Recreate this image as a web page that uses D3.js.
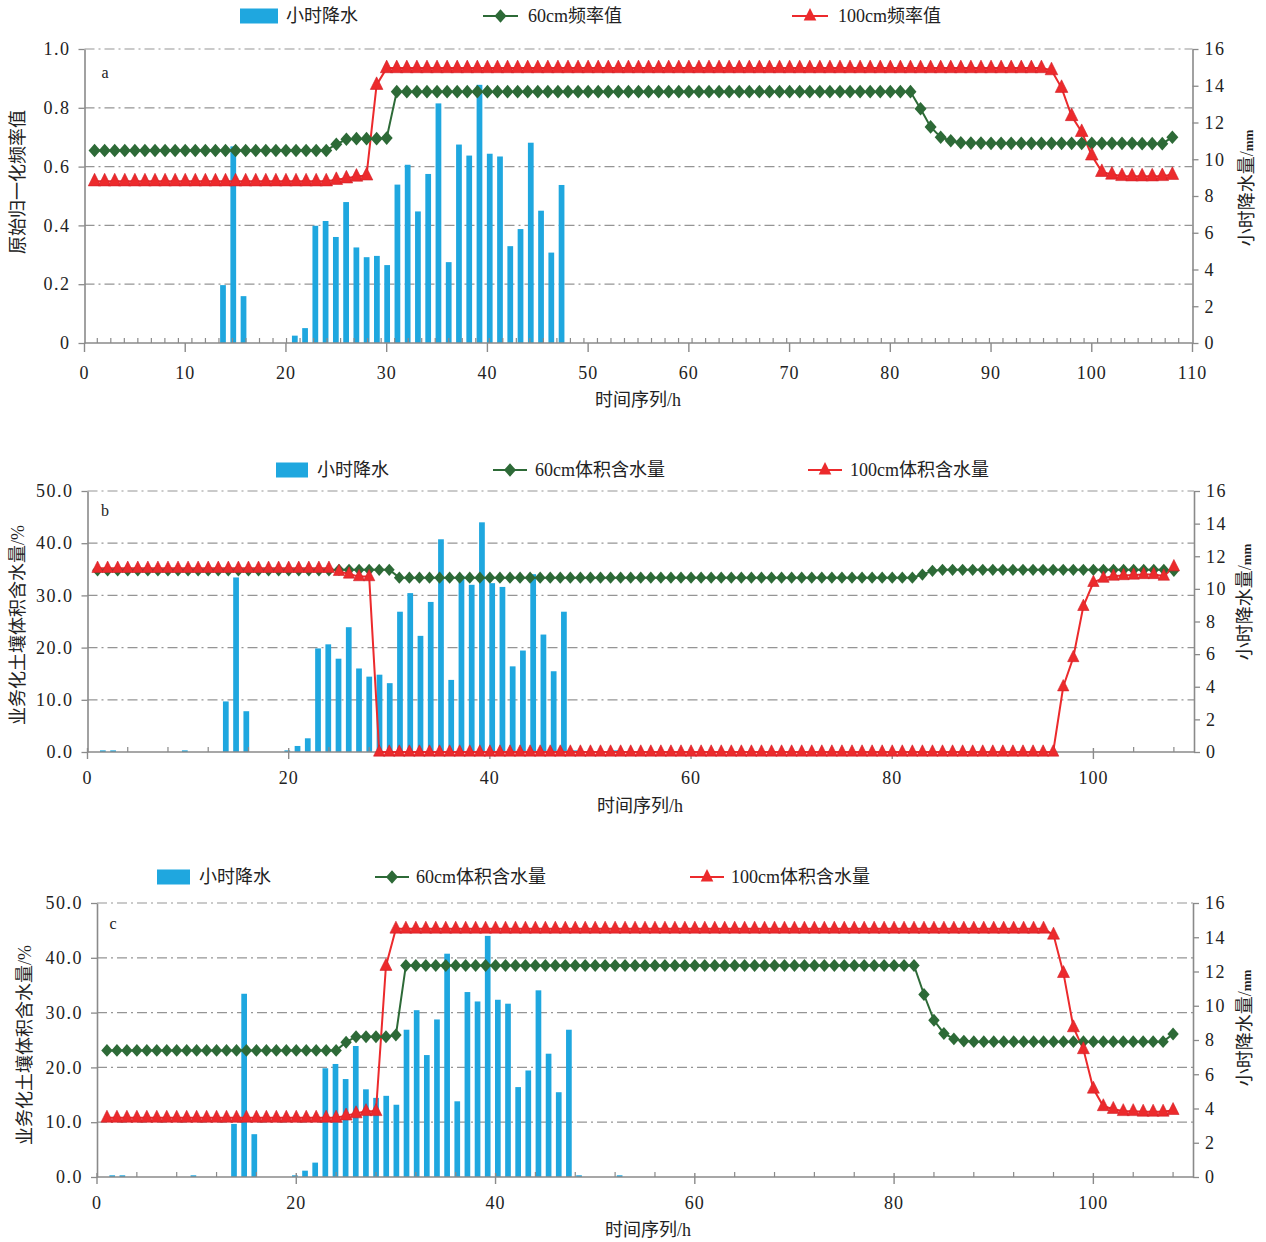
<!DOCTYPE html>
<html><head><meta charset="utf-8">
<script src="https://cdn.jsdelivr.net/npm/d3@7/dist/d3.min.js"></script>
<style>
body{margin:0;background:#fff;}
svg text{font-family:"Liberation Serif","Noto Sans CJK SC",serif;fill:#222;}
</style>
</head><body>
<svg id="chart" width="1266" height="1242"></svg>
<script>
// ---------- data ----------
const hours = d3.range(1, 109); // time series categories 1..108 h

const precipA = [
 0,0,0,0,0,0,0,0,0,0,0,0,
 0,3.15,10.7,2.55,0,0,0,0,0.4,0.81,6.38,6.64,
 5.77,7.67,5.2,4.67,4.74,4.24,8.62,9.7,7.16,9.2,13.04,4.4,
 10.8,10.2,14.05,10.3,10.15,5.27,6.2,10.9,7.2,4.92,8.6,0,
 0,0,0,0,0,0,0,0,0,0,0,0,
 0,0,0,0,0,0,0,0,0,0,0,0,
 0,0,0,0,0,0,0,0,0,0,0,0,
 0,0,0,0,0,0,0,0,0,0,0,0,
 0,0,0,0,0,0,0,0,0,0,0,0
];
const precipBC = [
 0,0.1,0.1,0,0,0,0,0,0,0.1,0,0,
 0,3.1,10.7,2.5,0,0,0,0.1,0.37,0.84,6.35,6.6,
 5.72,7.65,5.12,4.62,4.74,4.22,8.6,9.74,7.12,9.2,13.04,4.42,
 10.8,10.25,14.08,10.35,10.12,5.25,6.22,10.9,7.2,4.95,8.6,0.1,
 0,0,0,0.1,0,0,0,0,0,0,0,0,
 0,0,0,0,0,0,0,0,0,0,0,0,
 0,0,0,0,0,0,0,0,0,0,0,0,
 0,0,0,0,0,0,0,0,0,0,0,0,
 0,0,0,0,0,0,0,0,0,0,0,0
];
// panel a: normalized frequency values
const freq60 = [
 0.655,0.655,0.655,0.655,0.655,0.655,0.655,0.655,0.655,0.655,0.655,0.655,
 0.655,0.655,0.655,0.655,0.655,0.655,0.655,0.655,0.655,0.655,0.655,0.655,
 0.676,0.693,0.695,0.695,0.695,0.697,0.855,0.855,0.855,0.855,0.855,0.855,
 0.855,0.855,0.855,0.855,0.855,0.855,0.855,0.855,0.855,0.855,0.855,0.855,
 0.855,0.855,0.855,0.855,0.855,0.855,0.855,0.855,0.855,0.855,0.855,0.855,
 0.855,0.855,0.855,0.855,0.855,0.855,0.855,0.855,0.855,0.855,0.855,0.855,
 0.855,0.855,0.855,0.855,0.855,0.855,0.855,0.855,0.855,0.855,0.797,0.735,
 0.700,0.688,0.681,0.680,0.680,0.679,0.679,0.679,0.679,0.679,0.679,0.679,
 0.679,0.679,0.679,0.679,0.679,0.679,0.679,0.679,0.678,0.678,0.678,0.700
];
const freq100 = [
 0.550,0.550,0.550,0.550,0.550,0.550,0.550,0.550,0.550,0.550,0.550,0.550,
 0.550,0.550,0.550,0.550,0.550,0.550,0.550,0.550,0.550,0.550,0.550,0.550,
 0.555,0.560,0.566,0.570,0.878,0.935,0.935,0.935,0.935,0.935,0.935,0.935,
 0.935,0.935,0.935,0.935,0.935,0.935,0.935,0.935,0.935,0.935,0.935,0.935,
 0.935,0.935,0.935,0.935,0.935,0.935,0.935,0.935,0.935,0.935,0.935,0.935,
 0.935,0.935,0.935,0.935,0.935,0.935,0.935,0.935,0.935,0.935,0.935,0.935,
 0.935,0.935,0.935,0.935,0.935,0.935,0.935,0.935,0.935,0.935,0.935,0.935,
 0.935,0.935,0.935,0.935,0.935,0.935,0.935,0.935,0.935,0.935,0.935,0.928,
 0.868,0.772,0.718,0.638,0.582,0.573,0.568,0.567,0.567,0.567,0.568,0.572
];
// panel b: operational soil volumetric water content (%)
const volB60 = [
 34.8,34.8,34.8,34.8,34.8,34.8,34.8,34.8,34.8,34.8,34.8,34.8,
 34.8,34.8,34.8,34.8,34.8,34.8,34.8,34.8,34.8,34.8,34.8,34.8,
 34.9,34.9,34.9,34.9,34.9,34.9,33.4,33.4,33.4,33.4,33.4,33.4,
 33.4,33.4,33.4,33.4,33.4,33.4,33.4,33.4,33.4,33.4,33.4,33.4,
 33.4,33.4,33.4,33.4,33.4,33.4,33.4,33.4,33.4,33.4,33.4,33.4,
 33.4,33.4,33.4,33.4,33.4,33.4,33.4,33.4,33.4,33.4,33.4,33.4,
 33.4,33.4,33.4,33.4,33.4,33.4,33.4,33.4,33.4,33.4,34.0,34.7,
 34.9,34.9,34.9,34.9,34.9,34.9,34.9,34.9,34.9,34.9,34.9,34.9,
 34.9,34.9,34.9,34.9,34.9,34.9,34.9,34.9,34.9,34.9,34.9,34.7
];
const volB100 = [
 35.2,35.2,35.2,35.2,35.2,35.2,35.2,35.2,35.2,35.2,35.2,35.2,
 35.2,35.2,35.2,35.2,35.2,35.2,35.2,35.2,35.2,35.2,35.2,35.2,
 34.6,34.1,33.6,33.6,0,0,0,0,0,0,0,0,
 0,0,0,0,0,0,0,0,0,0,0,0,
 0,0,0,0,0,0,0,0,0,0,0,0,
 0,0,0,0,0,0,0,0,0,0,0,0,
 0,0,0,0,0,0,0,0,0,0,0,0,
 0,0,0,0,0,0,0,0,0,0,0,0,
 12.5,18.1,27.9,32.5,33.3,33.7,33.8,33.9,34.0,34.0,33.7,35.5
];
// panel c: operational soil volumetric water content (%)
const volC60 = [
 23.1,23.1,23.1,23.1,23.1,23.1,23.1,23.1,23.1,23.1,23.1,23.1,
 23.1,23.1,23.1,23.1,23.1,23.1,23.1,23.1,23.1,23.1,23.1,23.1,
 24.6,25.6,25.6,25.6,25.6,25.9,38.6,38.6,38.6,38.6,38.6,38.6,
 38.6,38.6,38.6,38.6,38.6,38.6,38.6,38.6,38.6,38.6,38.6,38.6,
 38.6,38.6,38.6,38.6,38.6,38.6,38.6,38.6,38.6,38.6,38.6,38.6,
 38.6,38.6,38.6,38.6,38.6,38.6,38.6,38.6,38.6,38.6,38.6,38.6,
 38.6,38.6,38.6,38.6,38.6,38.6,38.6,38.6,38.6,38.6,33.3,28.6,
 26.2,25.2,24.8,24.7,24.7,24.7,24.7,24.7,24.7,24.7,24.7,24.7,
 24.7,24.7,24.7,24.7,24.7,24.7,24.7,24.7,24.7,24.7,24.7,26.1
];
const volC100 = [
 10.8,10.8,10.8,10.8,10.8,10.8,10.8,10.8,10.8,10.8,10.8,10.8,
 10.8,10.8,10.8,10.8,10.8,10.8,10.8,10.8,10.8,10.8,10.8,10.8,
 11.2,11.6,12.0,12.0,38.5,45.3,45.3,45.3,45.3,45.3,45.3,45.3,
 45.3,45.3,45.3,45.3,45.3,45.3,45.3,45.3,45.3,45.3,45.3,45.3,
 45.3,45.3,45.3,45.3,45.3,45.3,45.3,45.3,45.3,45.3,45.3,45.3,
 45.3,45.3,45.3,45.3,45.3,45.3,45.3,45.3,45.3,45.3,45.3,45.3,
 45.3,45.3,45.3,45.3,45.3,45.3,45.3,45.3,45.3,45.3,45.3,45.3,
 45.3,45.3,45.3,45.3,45.3,45.3,45.3,45.3,45.3,45.3,45.3,44.2,
 37.2,27.3,23.3,16.1,12.9,12.4,12.0,12.0,11.9,11.9,11.9,12.2
];
// tick labels
const xTicksA = [0,10,20,30,40,50,60,70,80,90,100,110];
const xTicksBC = [0,20,40,60,80,100];
const yTicksA = [0,0.2,0.4,0.6,0.8,1.0];
const yTicksBC = [0,10,20,30,40,50];
const yTicksR = [0,2,4,6,8,10,12,14,16];
const legendA = ['小时降水','60cm频率值','100cm频率值'];
const legendBC = ['小时降水','60cm体积含水量','100cm体积含水量'];
const yTitleA = '原始归一化频率值';
const yTitleBC = '业务化土壤体积含水量/%';
const rTitle = '小时降水量/';
const rUnit = 'mm';
const xTitle = '时间序列/h';

// ---------- style ----------
const C_BAR = '#1fa7df', C_GREEN = '#2d6a37', C_RED = '#ec2a2c', C_AXIS = '#8a8a8a', C_GRID = '#959595';

const panels = [
 {letter:'a', s60:freq60, s100:freq100, precip:precipA, left:84.5, right:1192.5, top:49, bottom:343,
  yDomain:[0,1], yTicks:yTicksA, yFmt:d=>d===0?'0':d.toFixed(1), xTicks:xTicksA,
  minor:d3.range(0,81).map(k=>1.27+1.342*k), majorUp:0, majorDown:9,
  legend:legendA, leg:{y:16, rect:[240,278], t1:286, g:[483,518], t2:528, r:[792,828], t3:838},
  yTitle:yTitleA, yT:[18,182], rT:[1247,188], xT:[638,400], letterPos:[105,72], xLabelY:373, mk:1.0},
 {letter:'b', s60:volB60, s100:volB100, precip:precipBC, left:87.5, right:1194, top:491, bottom:752,
  yDomain:[0,50], yTicks:yTicksBC, yFmt:d=>d.toFixed(1), xTicks:xTicksBC,
  minor:d3.range(4,110,4).filter(v=>v%20!==0), majorUp:4, majorDown:7,
  legend:legendBC, leg:{y:470, rect:[276,308], t1:317, g:[493,527], t2:535, r:[808,842], t3:850},
  yTitle:yTitleBC, yT:[18,625], rT:[1245,602], xT:[640,806], letterPos:[105,510], xLabelY:778, mk:0.9},
 {letter:'c', s60:volC60, s100:volC100, precip:precipBC, left:97, right:1193, top:903, bottom:1177,
  yDomain:[0,50], yTicks:yTicksBC, yFmt:d=>d.toFixed(1), xTicks:xTicksBC,
  minor:d3.range(4,110,4).filter(v=>v%20!==0), majorUp:4, majorDown:7,
  legend:legendBC, leg:{y:877, rect:[157,190], t1:199, g:[375,409], t2:416, r:[690,724], t3:731},
  yTitle:yTitleBC, yT:[25,1045], rT:[1245,1028], xT:[648,1230], letterPos:[113,923], xLabelY:1203, mk:0.95}
];

const svg = d3.select('#chart');

function diamond(s){ const w=6*s, h=6.8*s; return `M0,${-h}L${w},0L0,${h}L${-w},0Z`; }
function triangle(s){ const w=6.3*s, t=8*s, b=4.6*s; return `M0,${-t}L${w},${b}L${-w},${b}Z`; }

function drawPanel(p){
  const g = svg.append('g');
  const x = d3.scaleLinear().domain([0,110]).range([p.left,p.right]);
  const xb = d3.scaleBand().domain(hours).range([p.left,p.right]);
  const yL = d3.scaleLinear().domain(p.yDomain).range([p.bottom,p.top]);
  const yR = d3.scaleLinear().domain([0,16]).range([p.bottom,p.top]);

  // grid lines
  g.append('g').selectAll('line').data(p.yTicks.filter(v=>v>0)).join('line')
    .attr('x1',p.left).attr('x2',p.right)
    .attr('y1',d=>yL(d)).attr('y2',d=>yL(d))
    .attr('stroke',C_GRID).attr('stroke-width',1.2).attr('stroke-dasharray','10,4,2,4');

  // bars (precipitation, right axis)
  const bw = xb.bandwidth()*0.56;
  g.append('g').selectAll('rect')
    .data(hours.map((h,i)=>({h, v:p.precip[i]})).filter(d=>d.v>0))
    .join('rect')
    .attr('x',d=>xb(d.h)+xb.bandwidth()/2-bw/2).attr('width',bw)
    .attr('y',d=>yR(d.v)).attr('height',d=>yR(0)-yR(d.v))
    .attr('fill',C_BAR);

  // x axis
  const xa = g.append('g');
  xa.append('line').attr('x1',p.left).attr('x2',p.right).attr('y1',p.bottom).attr('y2',p.bottom)
    .attr('stroke',C_AXIS).attr('stroke-width',1.6);
  xa.selectAll('line.minor').data(p.minor).join('line').attr('class','minor')
    .attr('x1',d=>x(d)).attr('x2',d=>x(d)).attr('y1',p.bottom-5).attr('y2',p.bottom)
    .attr('stroke',C_AXIS).attr('stroke-width',1.2);
  xa.selectAll('line.major').data(p.xTicks).join('line').attr('class','major')
    .attr('x1',d=>x(d)).attr('x2',d=>x(d)).attr('y1',p.bottom-p.majorUp).attr('y2',p.bottom+p.majorDown)
    .attr('stroke',C_AXIS).attr('stroke-width',1.4);
  xa.selectAll('text').data(p.xTicks).join('text')
    .attr('x',d=>x(d)).attr('y',p.xLabelY).attr('dy','0.35em')
    .attr('text-anchor','middle').attr('font-size',18).attr('letter-spacing',1).text(d=>d);

  // left axis
  const la = g.append('g').attr('transform',`translate(${p.left},0)`)
    .call(d3.axisLeft(yL).tickValues(p.yTicks).tickFormat(p.yFmt).tickSize(6).tickSizeOuter(0).tickPadding(8));
  // right axis
  const ra = g.append('g').attr('transform',`translate(${p.right},0)`)
    .call(d3.axisRight(yR).tickValues(yTicksR).tickFormat(d=>d).tickSize(6).tickSizeOuter(0).tickPadding(6));
  [la,ra].forEach(a=>{
    a.select('.domain').attr('stroke',C_AXIS).attr('stroke-width',1.6);
    a.selectAll('.tick line').attr('stroke',C_AXIS).attr('stroke-width',1.3);
    a.selectAll('.tick text').attr('font-size',18).attr('fill','#222')
      .attr('font-family','"Liberation Serif",serif').attr('letter-spacing',1.5);
  });

  // lines + markers
  const line = d3.line().x(d=>x(d.h)).y(d=>yL(d.v));
  const d60 = hours.map((h,i)=>({h, v:p.s60[i]}));
  const d100 = hours.map((h,i)=>({h, v:p.s100[i]}));
  g.append('path').datum(d60).attr('d',line).attr('fill','none').attr('stroke',C_GREEN).attr('stroke-width',2);
  g.append('path').datum(d100).attr('d',line).attr('fill','none').attr('stroke',C_RED).attr('stroke-width',2);
  g.append('g').selectAll('path').data(d60).join('path')
    .attr('transform',d=>`translate(${x(d.h)},${yL(d.v)})`).attr('d',diamond(p.mk)).attr('fill',C_GREEN);
  g.append('g').selectAll('path').data(d100).join('path')
    .attr('transform',d=>`translate(${x(d.h)},${yL(d.v)})`).attr('d',triangle(p.mk))
    .attr('fill',C_RED).attr('stroke','#d21f26').attr('stroke-width',0.6);

  // legend
  const L = p.leg, lg = g.append('g');
  lg.append('rect').attr('x',L.rect[0]).attr('y',L.y-7.5).attr('width',L.rect[1]-L.rect[0]).attr('height',15).attr('fill',C_BAR);
  lg.append('line').attr('x1',L.g[0]).attr('x2',L.g[1]).attr('y1',L.y).attr('y2',L.y).attr('stroke',C_GREEN).attr('stroke-width',2.2);
  lg.append('path').attr('transform',`translate(${(L.g[0]+L.g[1])/2},${L.y})`).attr('d',diamond(1)).attr('fill',C_GREEN);
  lg.append('line').attr('x1',L.r[0]).attr('x2',L.r[1]).attr('y1',L.y).attr('y2',L.y).attr('stroke',C_RED).attr('stroke-width',2.2);
  lg.append('path').attr('transform',`translate(${(L.r[0]+L.r[1])/2},${L.y})`).attr('d',triangle(1)).attr('fill',C_RED);
  [[L.t1,p.legend[0]],[L.t2,p.legend[1]],[L.t3,p.legend[2]]].forEach(([tx,t])=>{
    lg.append('text').attr('x',tx).attr('y',L.y).attr('dy','0.36em').attr('font-size',18).text(t);
  });

  // titles
  g.append('text').attr('transform',`translate(${p.yT[0]},${p.yT[1]}) rotate(-90)`)
    .attr('text-anchor','middle').attr('dy','0.36em').attr('font-size',18).text(p.yTitle);
  const rt = g.append('text').attr('transform',`translate(${p.rT[0]},${p.rT[1]}) rotate(-90)`)
    .attr('text-anchor','middle').attr('dy','0.36em').attr('font-size',18);
  rt.append('tspan').text(rTitle);
  rt.append('tspan').attr('font-size',13).attr('font-weight','bold').text(rUnit);
  g.append('text').attr('x',p.xT[0]).attr('y',p.xT[1]).attr('dy','0.36em')
    .attr('text-anchor','middle').attr('font-size',18).text(xTitle);
  g.append('text').attr('x',p.letterPos[0]).attr('y',p.letterPos[1]).attr('dy','0.36em')
    .attr('text-anchor','middle').attr('font-size',16).text(p.letter);
}

panels.forEach(drawPanel);
</script>
</body></html>
